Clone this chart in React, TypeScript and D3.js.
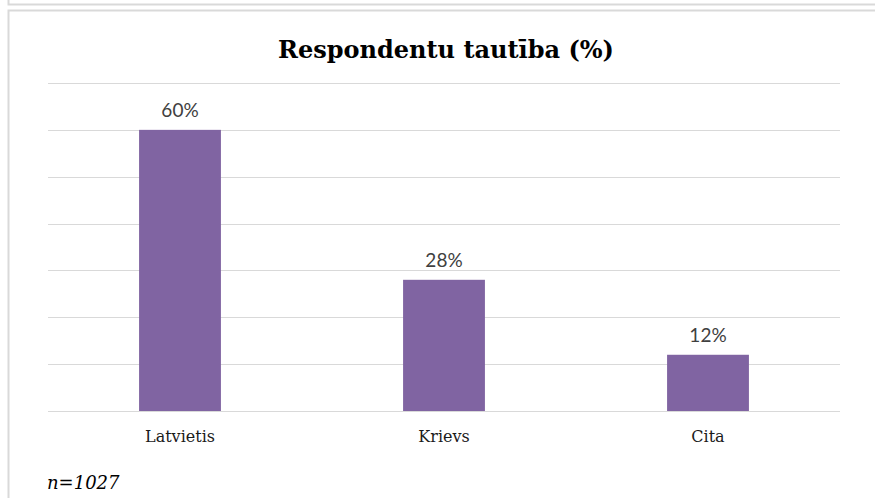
import React from "react";
import * as d3 from "d3";

const categories = ["Latvietis", "Krievs", "Cita"];
const values = [60, 28, 12];
const yTicks = [0, 10, 20, 30, 40, 50, 60, 70];
const title = "Respondentu tautība (%)";
const note = "n=1027";

const W = 875;
const H = 498;

export default function App() {
  const x = d3.scaleBand<string>().domain(categories).range([48, 840]).paddingInner(0.69).paddingOuter(0.345);
  const y = d3.scaleLinear().domain([0, 70]).range([411, 83]);
  const serif = "'DejaVu Serif', serif";
  const sans = "Lato, 'Open Sans', sans-serif";
  return (
    <div style={{ position: "absolute", left: 0, top: 0, width: W, height: H, background: "#fff" }}>
      <svg width={W} height={H} style={{ display: "block" }}>
        <rect x={0} y={0} width={W} height={H} fill="#fff" />
        {/* frame above */}
        <path d={`M8.5,0 V4.5 H${W}`} fill="none" stroke="#d9d9d9" strokeWidth={2} />
        {/* chart frame */}
        <path d={`M${W},10.5 H8.5 V${H}`} fill="none" stroke="#d9d9d9" strokeWidth={2} />
        {/* title */}
        <text x={446} y={58} textAnchor="middle" fontFamily={serif} fontWeight="bold" fontSize={24} fill="#000">
          {title}
        </text>
        {/* gridlines */}
        {yTicks.map((t) => (
          <line key={t} x1={48} x2={840} y1={Math.round(y(t)) + 0.5} y2={Math.round(y(t)) + 0.5} stroke="#d9d9d9" strokeWidth={1} />
        ))}
        {/* bars */}
        {categories.map((c, i) => (
          <rect key={c} x={x(c)} y={y(values[i])} width={x.bandwidth()} height={y(0) - y(values[i])} fill="#8064A2" />
        ))}
        {/* value labels */}
        {categories.map((c, i) => (
          <text key={c} x={(x(c) as number) + x.bandwidth() / 2} y={y(values[i]) - 13} textAnchor="middle" fontFamily={sans} fontSize={19} fill="#404040">
            {values[i]}%
          </text>
        ))}
        {/* category labels */}
        {categories.map((c) => (
          <text key={c} x={(x(c) as number) + x.bandwidth() / 2} y={442} textAnchor="middle" fontFamily={serif} fontSize={16} fill="#1a1a1a">
            {c}
          </text>
        ))}
        <text x={47} y={489} fontFamily={serif} fontStyle="italic" fontSize={18} fill="#000">
          {note}
        </text>
      </svg>
    </div>
  );
}
